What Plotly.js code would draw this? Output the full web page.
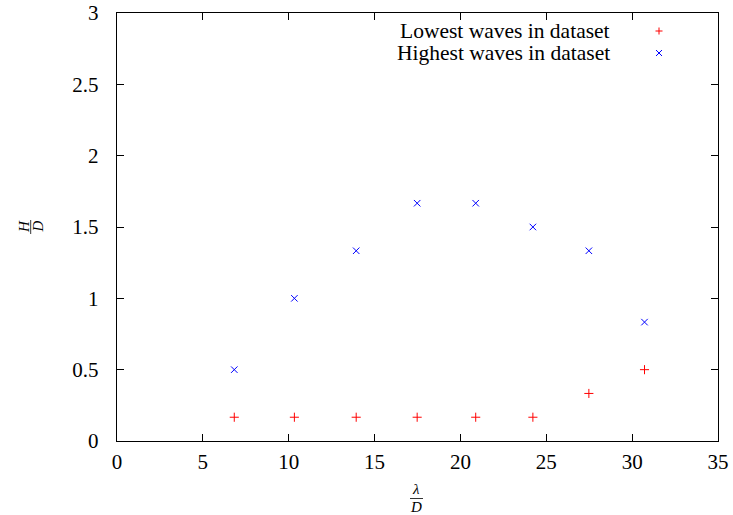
<!DOCTYPE html>
<html>
<head>
<meta charset="utf-8">
<script src="https://cdn.plot.ly/plotly-3.0.1.min.js"></script>
<style>html,body{margin:0;padding:0;background:#fff;}#chart{width:733px;height:515px;}</style>
</head>
<body>
<div id="chart"></div>
<script>
// Data
const lambdaOverD = [6.83, 10.33, 13.93, 17.48, 20.89, 24.22, 27.48, 30.72];
const lowestH = [0.1667, 0.1667, 0.1667, 0.1667, 0.1667, 0.1667, 0.3333, 0.5];
const highestH = [0.5, 1.0, 1.3333, 1.6667, 1.6667, 1.5, 1.3333, 0.8333];
const seriesNames = ["Lowest waves in dataset", "Highest waves in dataset"];
const xTicks = [0, 5, 10, 15, 20, 25, 30, 35];
const yTicks = [0, 0.5, 1, 1.5, 2, 2.5, 3];

const FONT = "Liberation Serif";
const L = 117, T = 13, R = 718, B = 441;
const W = R - L, H = B - T;
const px = x => (x - L) / W;
const py = y => (B - y) / H;

const traces = [
  {x: lambdaOverD, y: lowestH, type: 'scatter', mode: 'markers', name: seriesNames[0],
   marker: {symbol: 'cross-thin', size: 6.5, color: '#ff0000', line: {color: '#ff0000', width: 1}},
   cliponaxis: false, showlegend: false},
  {x: lambdaOverD, y: highestH, type: 'scatter', mode: 'markers', name: seriesNames[1],
   marker: {symbol: 'x-thin', size: 6.5, color: '#0000ff', line: {color: '#0000ff', width: 1}},
   cliponaxis: false, showlegend: false}
];

const axisCommon = {
  showline: true, linecolor: '#000', linewidth: 1.3, mirror: 'allticks',
  ticks: 'inside', ticklen: 7, tickwidth: 1, tickcolor: '#000',
  showgrid: false, zeroline: false,
  tickfont: {family: FONT, size: 21, color: '#000'}
};

const layout = {
  width: 733, height: 515,
  font: {family: FONT, size: 21, color: '#000'},
  margin: {l: L, r: 733 - R, t: T, b: 515 - B},
  paper_bgcolor: '#fff', plot_bgcolor: '#fff',
  showlegend: false,
  xaxis: Object.assign({}, axisCommon, {range: [0, 35], tickvals: xTicks, ticktext: xTicks.map(String), ticklabelstandoff: 1}),
  yaxis: Object.assign({}, axisCommon, {range: [0, 3], tickvals: yTicks, ticktext: yTicks.map(String), ticklabelstandoff: 13}),
  annotations: [
    // legend texts
    {xref: 'paper', yref: 'paper', x: px(612), y: py(31), xanchor: 'right', yanchor: 'middle',
     text: seriesNames[0], showarrow: false, font: {family: FONT, size: 21.5, color: '#000'}},
    {xref: 'paper', yref: 'paper', x: px(612), y: py(53), xanchor: 'right', yanchor: 'middle',
     text: seriesNames[1], showarrow: false, font: {family: FONT, size: 21.5, color: '#000'}},
    // x axis title: lambda / D
    {xref: 'paper', yref: 'paper', x: px(416), y: py(489), xanchor: 'center', yanchor: 'middle',
     text: '<i>λ</i>', showarrow: false, font: {family: FONT, size: 15, color: '#000'}},
    {xref: 'paper', yref: 'paper', x: px(416), y: py(507), xanchor: 'center', yanchor: 'middle',
     text: '<i>D</i>', showarrow: false, font: {family: FONT, size: 15, color: '#000'}},
    // y axis title: H / D (rotated)
    {xref: 'paper', yref: 'paper', x: px(24), y: py(227), xanchor: 'center', yanchor: 'middle',
     text: '<i>H</i>', textangle: -90, showarrow: false, font: {family: FONT, size: 15, color: '#000'}},
    {xref: 'paper', yref: 'paper', x: px(37.5), y: py(227), xanchor: 'center', yanchor: 'middle',
     text: '<i>D</i>', textangle: -90, showarrow: false, font: {family: FONT, size: 15, color: '#000'}}
  ],
  shapes: [
    // fraction bars
    {type: 'line', xref: 'paper', yref: 'paper', x0: px(410), x1: px(423), y0: py(498.5), y1: py(498.5),
     line: {color: '#000', width: 0.8}},
    {type: 'line', xref: 'paper', yref: 'paper', x0: px(30.7), x1: px(30.7), y0: py(220), y1: py(234),
     line: {color: '#000', width: 0.8}},
    // legend samples: plus
    {type: 'line', xref: 'paper', yref: 'paper', x0: px(655.5), x1: px(662.5), y0: py(31), y1: py(31), line: {color: '#ff0000', width: 1}},
    {type: 'line', xref: 'paper', yref: 'paper', x0: px(659), x1: px(659), y0: py(27.5), y1: py(34.5), line: {color: '#ff0000', width: 1}},
    // legend samples: x
    {type: 'line', xref: 'paper', yref: 'paper', x0: px(656), x1: px(662), y0: py(50), y1: py(56), line: {color: '#0000ff', width: 1}},
    {type: 'line', xref: 'paper', yref: 'paper', x0: px(656), x1: px(662), y0: py(56), y1: py(50), line: {color: '#0000ff', width: 1}}
  ]
};

Plotly.newPlot('chart', traces, layout, {staticPlot: true, displayModeBar: false});
</script>
</body>
</html>
